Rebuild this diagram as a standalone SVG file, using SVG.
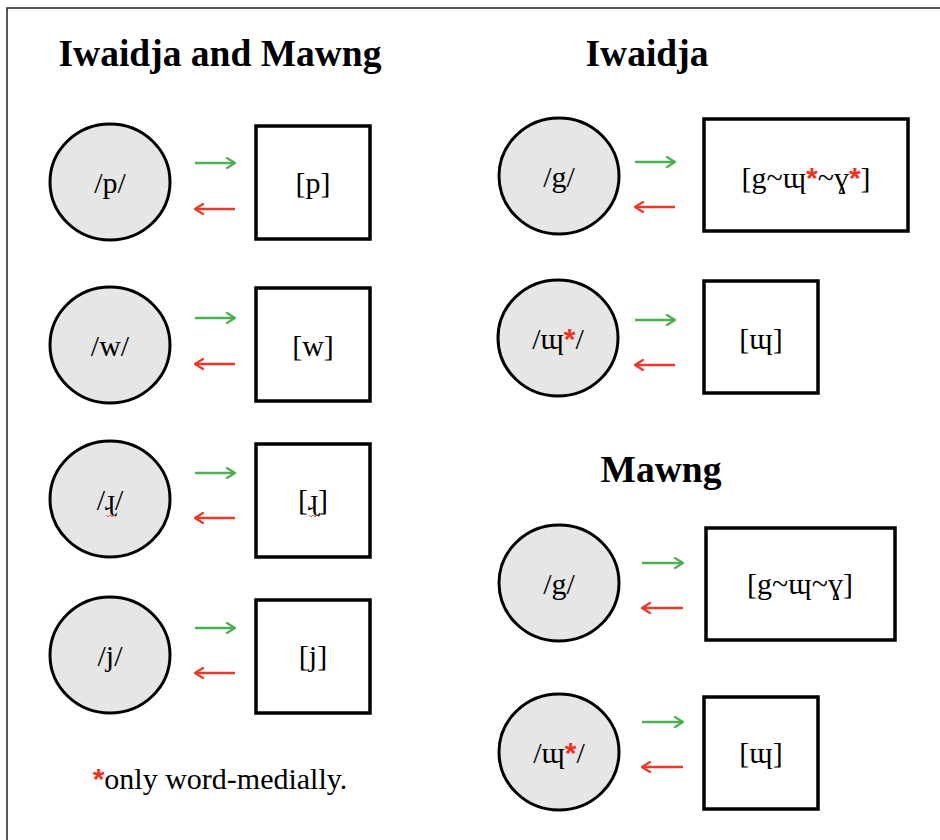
<svg xmlns="http://www.w3.org/2000/svg" width="940" height="840" viewBox="0 0 940 840">
<style>
.title{font-family:"Liberation Serif","Times New Roman",serif;font-weight:bold;font-size:37.5px;fill:#000;text-anchor:middle}
.lbl{font-family:"Liberation Serif","Times New Roman",serif;font-size:30px;fill:#000;text-anchor:middle}
.star{fill:#ee3322;font-family:"Liberation Sans",Arial,sans-serif;font-weight:bold}
.ph{fill:#e6e6e6;stroke:#000;stroke-width:3}
.al{fill:#fff;stroke:#000;stroke-width:3.5}
.g{stroke:#4caf50;stroke-width:2.5;fill:none;marker-end:url(#ag)}
.r{stroke:#e8392a;stroke-width:2.5;fill:none;marker-end:url(#ar)}
</style>
<defs>
<marker id="ag" viewBox="0 0 12 12" refX="10" refY="6" markerWidth="12" markerHeight="12" markerUnits="userSpaceOnUse" orient="auto">
<path d="M2,1 L10,6 L2,11" fill="none" stroke="#4caf50" stroke-width="2.2" stroke-linecap="round" stroke-linejoin="round"/>
</marker>
<marker id="ar" viewBox="0 0 12 12" refX="10" refY="6" markerWidth="12" markerHeight="12" markerUnits="userSpaceOnUse" orient="auto">
<path d="M2,1 L10,6 L2,11" fill="none" stroke="#e8392a" stroke-width="2.2" stroke-linecap="round" stroke-linejoin="round"/>
</marker>
</defs>
<rect x="0" y="0" width="940" height="840" fill="#fff"/>
<path d="M7,842 L7,8 L942,8" fill="none" stroke="#222" stroke-width="1.5"/>

<text class="title" x="220" y="66">Iwaidja and Mawng</text>
<text class="title" x="647" y="66">Iwaidja</text>
<text class="title" x="661" y="482">Mawng</text>

<g id="ph-p"><ellipse class="ph" cx="110" cy="182" rx="60" ry="58"/><text class="lbl" x="110" y="193">/p/</text></g>
<g id="al-p"><rect class="al" x="256" y="126" width="114" height="113"/><text class="lbl" x="313" y="193">[p]</text></g>

<g id="ph-w"><ellipse class="ph" cx="110" cy="345" rx="60" ry="58"/><text class="lbl" x="110" y="356">/w/</text></g>
<g id="al-w"><rect class="al" x="256" y="288" width="114" height="113"/><text class="lbl" x="313" y="356">[w]</text></g>

<g id="ph-r"><ellipse class="ph" cx="110" cy="499" rx="60" ry="58"/><text class="lbl" x="110" y="510">/ɻ/</text>
<path d="M106,515 l2,2 l2,-2 l2,2 l2,-2 l2,2" fill="none" stroke="#e8392a" stroke-width="0.8"/></g>
<g id="al-r"><rect class="al" x="256" y="444" width="114" height="113"/><text class="lbl" x="313" y="510">[ɻ]</text>
<path d="M309,515 l2,2 l2,-2 l2,2 l2,-2 l2,2" fill="none" stroke="#e8392a" stroke-width="0.8"/></g>

<g id="ph-j"><ellipse class="ph" cx="110" cy="655" rx="60" ry="58"/><text class="lbl" x="110" y="666">/j/</text></g>
<g id="al-j"><rect class="al" x="256" y="600" width="114" height="113"/><text class="lbl" x="313" y="666">[j]</text></g>

<g id="note"><text class="lbl" x="220" y="789"><tspan class="star">*</tspan>only word-medially.</text></g>

<g id="iw-ph-g"><ellipse class="ph" cx="559" cy="176" rx="60" ry="58"/><text class="lbl" x="559" y="187">/g/</text></g>
<g id="iw-al-g"><rect class="al" x="704" y="119" width="204" height="112"/><text class="lbl" x="806" y="188">[g~ɰ<tspan class="star">*</tspan>~ɣ<tspan class="star">*</tspan>]</text></g>

<g id="iw-ph-m"><ellipse class="ph" cx="558" cy="338" rx="60" ry="58"/><text class="lbl" x="558" y="349">/ɰ<tspan class="star">*</tspan>/</text></g>
<g id="iw-al-m"><rect class="al" x="704" y="281" width="114" height="112"/><text class="lbl" x="761" y="349">[ɰ]</text></g>

<g id="mw-ph-g"><ellipse class="ph" cx="559" cy="583" rx="60" ry="58"/><text class="lbl" x="559" y="594">/g/</text></g>
<g id="mw-al-g"><rect class="al" x="706" y="528" width="189" height="112"/><text class="lbl" x="800" y="594">[g~ɰ~ɣ]</text></g>

<g id="mw-ph-m"><ellipse class="ph" cx="559" cy="752" rx="60" ry="58"/><text class="lbl" x="559" y="763">/ɰ<tspan class="star">*</tspan>/</text></g>
<g id="mw-al-m"><rect class="al" x="704" y="697" width="114" height="112"/><text class="lbl" x="761" y="763">[ɰ]</text></g>

<g id="connectors">
<path class="g" d="M195,163 H235"/><path class="r" d="M235,209 H195"/>
<path class="g" d="M195,318 H235"/><path class="r" d="M235,364 H195"/>
<path class="g" d="M195,473 H235"/><path class="r" d="M235,518 H195"/>
<path class="g" d="M195,628 H235"/><path class="r" d="M235,673 H195"/>
<path class="g" d="M635,162 H675"/><path class="r" d="M675,207 H635"/>
<path class="g" d="M635,320 H675"/><path class="r" d="M675,365 H635"/>
<path class="g" d="M642,563 H683"/><path class="r" d="M683,608 H642"/>
<path class="g" d="M642,722 H683"/><path class="r" d="M683,767 H642"/>
</g>
</svg>
